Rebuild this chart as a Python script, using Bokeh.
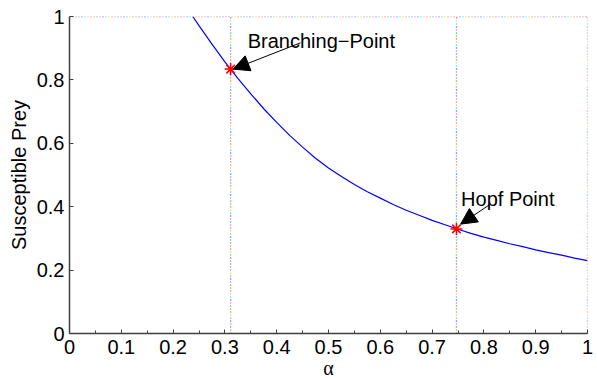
from bokeh.plotting import figure
from bokeh.models import Range1d, FixedTicker, Arrow, NormalHead, Label
from bokeh.embed import file_html
from bokeh.resources import INLINE

# ---- data ----
alpha = [0.238, 0.25, 0.275, 0.3, 0.325, 0.35, 0.375, 0.4, 0.425, 0.45,
         0.475, 0.5, 0.525, 0.55, 0.575, 0.6, 0.625, 0.65, 0.675, 0.7,
         0.725, 0.75, 0.775, 0.8, 0.825, 0.85, 0.875, 0.9, 0.925, 0.95,
         0.975, 1.0]
prey = [1.0, 0.971, 0.913, 0.857, 0.805, 0.756, 0.709, 0.666, 0.625, 0.588,
        0.553, 0.522, 0.495, 0.470, 0.447, 0.427, 0.407, 0.389, 0.373, 0.357,
        0.343, 0.329, 0.316, 0.304, 0.294, 0.283, 0.274, 0.264, 0.255, 0.247,
        0.238, 0.230]

special_alpha = [0.311, 0.747]
special_prey = [0.834, 0.330]
special_names = ["Branching\u2212Point", "Hopf Point"]

# dotted guide lines (vertical at these alphas, horizontal at top)
guide_x = [0.311, 0.747, 1.0]
guide_top = 1.0

x_ticks = [0, 0.1, 0.2, 0.3, 0.4, 0.5, 0.6, 0.7, 0.8, 0.9, 1.0]
x_tick_labels = ["0", "0.1", "0.2", "0.3", "0.4", "0.5", "0.6", "0.7", "0.8", "0.9", "1"]
y_ticks = [0, 0.2, 0.4, 0.6, 0.8, 1.0]
y_tick_labels = ["0", "0.2", "0.4", "0.6", "0.8", "1"]

# annotation placement (data coords)
label_pos = [(0.344, 0.924), (0.756, 0.424)]
arrow_start = [(0.446, 0.917), (0.813, 0.4085)]
arrow_end = [(0.316, 0.834), (0.755, 0.345)]

FONT = "Liberation Sans"

p = figure(width=597, height=378, frame_width=518, frame_height=317,
           output_backend="svg", toolbar_location=None,
           x_range=Range1d(0, 1), y_range=Range1d(0, 1),
           min_border_left=69, min_border_right=10,
           min_border_top=16, min_border_bottom=45)
p.outline_line_color = None
p.xgrid.visible = False
p.ygrid.visible = False
p.background_fill_color = "white"
p.border_fill_color = "white"

# multicoloured dotted guide lines
dot_colors = ["#ff4040", "#d0d000", "#00d0d0", "#3030ff", "#e040e0", "#20a020", "#808080"]
n = len(dot_colors)
for i, c in enumerate(dot_colors):
    dash = "1 %d" % (3 * n - 1)
    for gx in guide_x:
        p.line([gx, gx], [0, guide_top], line_color=c, line_width=1.3,
               line_dash=dash, line_dash_offset=3 * i)
    p.line([0, 1], [guide_top, guide_top], line_color=c, line_width=1.3,
           line_dash=dash, line_dash_offset=3 * i)

# curve
p.line(alpha, prey, line_color="#0000ff", line_width=1.2)

# special points
p.scatter(special_alpha, special_prey, marker="asterisk", size=12,
          line_color="#ff0000", line_width=1.5)

for (lx, ly), name, (sx, sy), (ex, ey) in zip(label_pos, special_names, arrow_start, arrow_end):
    p.add_layout(Arrow(x_start=sx, y_start=sy, x_end=ex, y_end=ey,
                       line_color="black", line_width=1,
                       end=NormalHead(size=16, fill_color="black", line_color="black")))
    p.add_layout(Label(x=lx, y=ly, text=name, text_font=FONT, text_font_size="20px",
                       text_baseline="alphabetic", text_align="left", text_color="black"))

for ax in (p.xaxis[0], p.yaxis[0]):
    ax.axis_line_color = "#404040"
    ax.axis_line_width = 1.5
    ax.major_tick_line_color = "#404040"
    ax.minor_tick_line_color = "#404040"
    ax.major_tick_in = 4
    ax.major_tick_out = 0
    ax.minor_tick_in = 3
    ax.minor_tick_out = 0
    ax.major_label_text_font = FONT
    ax.major_label_text_font_size = "20px"
    ax.major_label_text_color = "black"
    ax.axis_label_text_font_size = "20px"
    ax.axis_label_text_font_style = "normal"
    ax.axis_label_text_color = "black"

p.xaxis.ticker = FixedTicker(ticks=x_ticks,
                             minor_ticks=[t + 0.05 for t in x_ticks[:-1]])
p.xaxis.major_label_overrides = dict(zip(x_ticks, x_tick_labels))
p.xaxis.axis_label = "\u03b1"
p.xaxis.axis_label_text_font = "Liberation Serif"
p.xaxis.major_label_standoff = 6
p.xaxis.axis_label_standoff = 0

p.yaxis.ticker = FixedTicker(ticks=y_ticks)
p.yaxis.major_label_overrides = dict(zip(y_ticks, y_tick_labels))
p.yaxis.axis_label = "Susceptible Prey"
p.yaxis.axis_label_text_font = FONT
p.yaxis.major_label_standoff = 5
p.yaxis.axis_label_standoff = 4

open("out.html", "w").write(file_html(p, INLINE))
